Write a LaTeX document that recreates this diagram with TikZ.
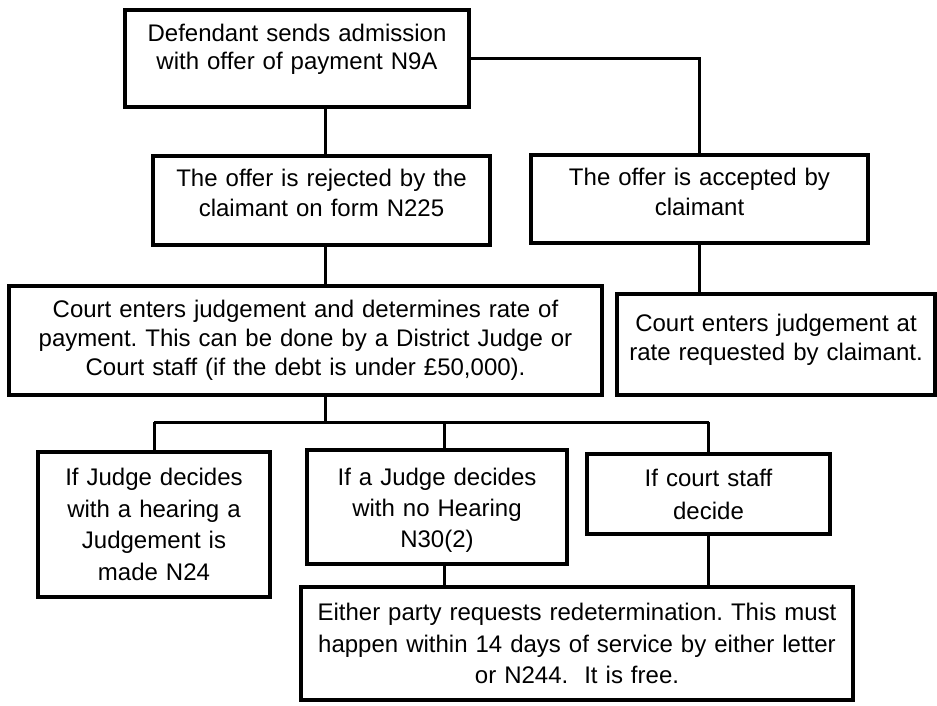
\documentclass[tikz,border=0pt]{standalone}
\usepackage{fontspec}
\setmainfont{Liberation Sans}
\frenchspacing
\begin{document}
\begin{tikzpicture}[x=1pt,y=-1pt,
  box/.style={draw=black, line width=3.5pt, fill=white, align=center, inner sep=0pt},
  conn/.style={draw=black, line width=3pt},
  fs/.style={font=\fontsize{24}{#1}\selectfont}
  ]
\fill[white] (0,0) rectangle (937,706);
\useasboundingbox (0,0) rectangle (937,706);
% boxes
\node[box, fs=28, minimum width=344pt, minimum height=97pt, text width=334pt] (b1) at (297,58.5)
  {Defendant sends admission\\with offer of payment N9A\rule[-23pt]{0pt}{0pt}};
\node[box, fs=30, minimum width=337pt, minimum height=89pt, text width=327pt] (b2) at (321.5,200.5)
  {The offer is rejected by the\\claimant on form N225\rule[-15pt]{0pt}{0pt}};
\node[box, fs=30, minimum width=337pt, minimum height=88pt, text width=327pt] (bA) at (699.5,199)
  {The offer is accepted by\\claimant\rule[-15pt]{0pt}{0pt}};
\node[box, fs=29, minimum width=593pt, minimum height=109pt, text width=583pt] (b3) at (305.5,340.5)
  {Court enters judgement and determines rate of\\payment. This can be done by a District Judge or\\Court staff (if the debt is under £50,000).};
\node[box, fs=29, minimum width=318pt, minimum height=101pt, text width=310pt] (bR) at (776,344.5)
  {Court enters judgement at\\rate requested by claimant.\rule[-15pt]{0pt}{0pt}};
\node[box, fs=31.5, minimum width=232pt, minimum height=145pt, text width=222pt] (b4) at (154,524.5)
  {If Judge decides\\with a hearing a\\Judgement is\\made N24};
\node[box, fs=31, minimum width=260pt, minimum height=114pt, text width=250pt] (b5) at (437,507)
  {\rule{0pt}{24pt}If a Judge decides\\with no Hearing\\N30(2)};
\node[box, fs=33, minimum width=243pt, minimum height=80pt, text width=233pt] (b6) at (708.5,494)
  {If court staff\\decide};
\node[box, fs=31.5, minimum width=552pt, minimum height=113pt, text width=542pt] (b7) at (577,643.5)
  {Either party requests redetermination. This must\\happen within 14 days of service by either letter\\or N244.\ \ It is free.};
% helper coordinates
\coordinate (trunk) at (325,0);
\coordinate (mid) at (444,0);
\coordinate (bus) at (0,422);
% connectors
\draw[conn] (b1.south -| trunk) -- (b2.north -| trunk);
\draw[conn] (b1.east) -| (bA.north);
\draw[conn] (b2.south -| trunk) -- (b3.north -| trunk);
\draw[conn] (bA.south) -- (bA.south |- bR.north);
\draw[conn] (b3.south -| trunk) -- (trunk |- bus);
\draw[conn] (b4.north |- bus) -- (b6.north |- bus);
\draw[conn] (b4.north |- bus) -- (b4.north);
\draw[conn] (mid |- bus) -- (b5.north -| mid);
\draw[conn] (b6.north |- bus) -- (b6.north);
\draw[conn] (b5.south -| mid) -- (b7.north -| mid);
\draw[conn] (b6.south) -- (b6.south |- b7.north);
\end{tikzpicture}
\end{document}
